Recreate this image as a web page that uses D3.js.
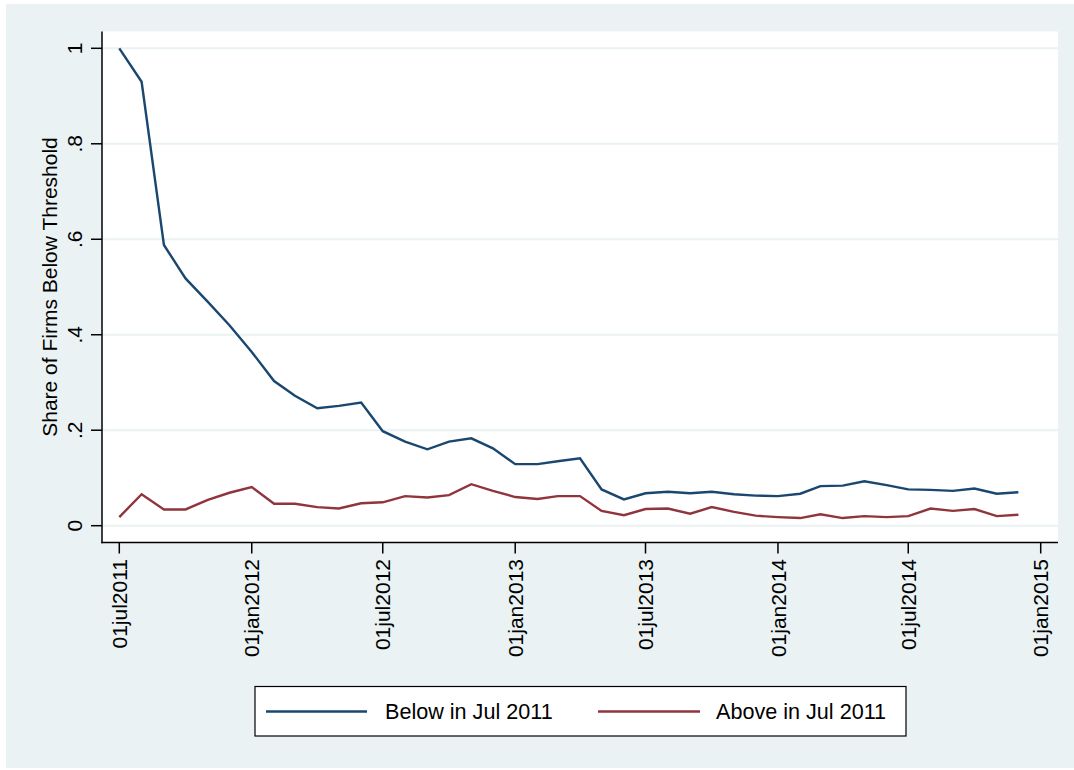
<!DOCTYPE html>
<html>
<head>
<meta charset="utf-8">
<script src="https://cdn.jsdelivr.net/npm/d3@7"></script>
<style>
  html, body { margin: 0; padding: 0; background: #ffffff; }
  svg { display: block; }
  text { font-family: "Liberation Sans", Arial, sans-serif; fill: #000; }
</style>
</head>
<body>
<svg id="chart" width="1074" height="770"></svg>
<script>
// Monthly observations, Jul 2011 - Dec 2014
const months = [
  "2011-07","2011-08","2011-09","2011-10","2011-11","2011-12",
  "2012-01","2012-02","2012-03","2012-04","2012-05","2012-06",
  "2012-07","2012-08","2012-09","2012-10","2012-11","2012-12",
  "2013-01","2013-02","2013-03","2013-04","2013-05","2013-06",
  "2013-07","2013-08","2013-09","2013-10","2013-11","2013-12",
  "2014-01","2014-02","2014-03","2014-04","2014-05","2014-06",
  "2014-07","2014-08","2014-09","2014-10","2014-11","2014-12"
];

// Share of firms below the threshold, by July 2011 status
const belowJul2011 = [
  1.000, 0.930, 0.588, 0.518, 0.469, 0.420,
  0.364, 0.303, 0.272, 0.246, 0.251, 0.258,
  0.198, 0.176, 0.160, 0.176, 0.183, 0.162,
  0.129, 0.129, 0.135, 0.141, 0.076, 0.055,
  0.068, 0.071, 0.068, 0.071, 0.066, 0.063,
  0.062, 0.067, 0.083, 0.084, 0.093, 0.085,
  0.076, 0.075, 0.073, 0.078, 0.067, 0.070
];
const aboveJul2011 = [
  0.018, 0.066, 0.034, 0.034, 0.054, 0.069,
  0.081, 0.046, 0.046, 0.039, 0.036, 0.047,
  0.049, 0.062, 0.059, 0.064, 0.087, 0.073,
  0.060, 0.056, 0.062, 0.062, 0.031, 0.022,
  0.035, 0.036, 0.025, 0.039, 0.029, 0.021,
  0.018, 0.016, 0.024, 0.016, 0.020, 0.018,
  0.020, 0.036, 0.031, 0.035, 0.020, 0.023
];

const seriesNames = ["Below in Jul 2011", "Above in Jul 2011"];
const seriesColors = ["#1a476f", "#90353b"];

const xTickDates = ["2011-07-01","2012-01-01","2012-07-01","2013-01-01",
                    "2013-07-01","2014-01-01","2014-07-01","2015-01-01"];
const yTickValues = [0, 0.2, 0.4, 0.6, 0.8, 1];
const yTickLabels = ["0", ".2", ".4", ".6", ".8", "1"];
const yTitle = "Share of Firms Below Threshold";

const monFmt = ["jan","feb","mar","apr","may","jun","jul","aug","sep","oct","nov","dec"];
const fmtDate = d => "01" + monFmt[d.getUTCMonth()] + d.getUTCFullYear();
const parseMonth = d3.utcParse("%Y-%m");
const parseDay = d3.utcParse("%Y-%m-%d");

const svg = d3.select("#chart");
const fs = 21;
const legendFs = 21.6;

// Layout
const plot = { left: 102, right: 1058, top: 31.5, bottom: 542.5 };

const x = d3.scaleUtc()
  .domain([parseDay("2011-07-01"), parseDay("2015-01-01")])
  .range([119.3, 1040.7]);
const y = d3.scaleLinear().domain([0, 1]).range([525.7, 48.3]);

// Graph region background
svg.append("rect").attr("x", 6).attr("y", 4).attr("width", 1068).attr("height", 764)
  .attr("fill", "#eaf2f3");
svg.append("rect").attr("x", plot.left).attr("y", plot.top)
  .attr("width", plot.right - plot.left).attr("height", plot.bottom - plot.top)
  .attr("fill", "#ffffff");

// Horizontal gridlines
svg.append("g").selectAll("line").data(yTickValues).join("line")
  .attr("x1", plot.left).attr("x2", plot.right)
  .attr("y1", d => y(d)).attr("y2", d => y(d))
  .attr("stroke", "#eaf2f3").attr("stroke-width", 2);

// Lines
const rows = months.map((m, i) => ({ date: parseMonth(m), below: belowJul2011[i], above: aboveJul2011[i] }));
const keys = ["below", "above"];
keys.forEach((k, i) => {
  const line = d3.line().x(d => x(d.date)).y(d => y(d[k]));
  svg.append("path").datum(rows).attr("d", line)
    .attr("fill", "none").attr("stroke", seriesColors[i])
    .attr("stroke-width", 2.4).attr("stroke-linejoin", "miter");
});

// Y axis
const yAxis = svg.append("g");
yAxis.append("line").attr("x1", plot.left).attr("x2", plot.left)
  .attr("y1", plot.top).attr("y2", plot.bottom + 0.75)
  .attr("stroke", "#000").attr("stroke-width", 1.5);
yAxis.selectAll("line.tick").data(yTickValues).join("line").attr("class", "tick")
  .attr("x1", plot.left - 11).attr("x2", plot.left)
  .attr("y1", d => y(d)).attr("y2", d => y(d))
  .attr("stroke", "#000").attr("stroke-width", 1.5);
yAxis.selectAll("text").data(yTickValues).join("text")
  .attr("transform", d => `translate(82,${y(d)}) rotate(-90)`)
  .attr("text-anchor", "middle")
  .attr("font-size", fs)
  .text((d, i) => yTickLabels[i]);
svg.append("text")
  .attr("transform", `translate(57,${(y(0) + y(1)) / 2}) rotate(-90)`)
  .attr("text-anchor", "middle").attr("font-size", fs)
  .text(yTitle);

// X axis
const xAxis = svg.append("g");
xAxis.append("line").attr("x1", plot.left - 0.75).attr("x2", plot.right)
  .attr("y1", plot.bottom).attr("y2", plot.bottom)
  .attr("stroke", "#000").attr("stroke-width", 1.5);
const xTicks = xTickDates.map(parseDay);
xAxis.selectAll("line.tick").data(xTicks).join("line").attr("class", "tick")
  .attr("x1", d => x(d)).attr("x2", d => x(d))
  .attr("y1", plot.bottom).attr("y2", plot.bottom + 11)
  .attr("stroke", "#000").attr("stroke-width", 1.5);
xAxis.selectAll("text").data(xTicks).join("text")
  .attr("transform", d => `translate(${x(d) + 0.36 * fs},559) rotate(-90)`)
  .attr("text-anchor", "end").attr("font-size", fs)
  .text(fmtDate);

// Legend
const lg = svg.append("g");
lg.append("rect").attr("x", 255).attr("y", 686.5).attr("width", 651).attr("height", 49.5)
  .attr("fill", "#ffffff").attr("stroke", "#000").attr("stroke-width", 1.2);
const legendItems = [
  { x0: 266, x1: 367, tx: 385 },
  { x0: 598, x1: 700, tx: 716 }
];
legendItems.forEach((it, i) => {
  lg.append("line").attr("x1", it.x0).attr("x2", it.x1).attr("y1", 711.5).attr("y2", 711.5)
    .attr("stroke", seriesColors[i]).attr("stroke-width", 2.4);
  lg.append("text").attr("x", it.tx).attr("y", 711.5 + 0.36 * legendFs)
    .attr("font-size", legendFs).text(seriesNames[i]);
});
</script>
</body>
</html>
